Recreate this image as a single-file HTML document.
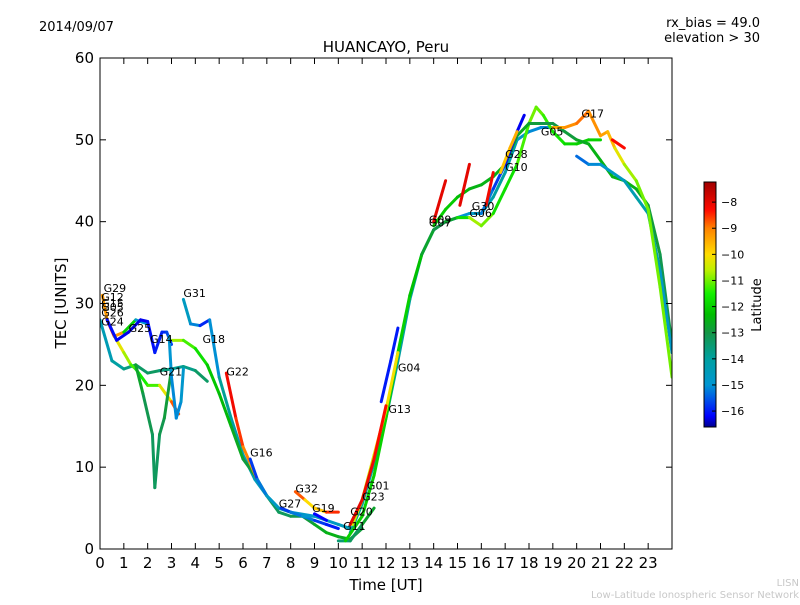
<!DOCTYPE html>
<html><head><meta charset="utf-8"><style>
body{margin:0;background:#fff;width:800px;height:600px;overflow:hidden;font-family:"Liberation Sans","DejaVu Sans",sans-serif}
</style></head><body>
<svg id="chart" width="800" height="600" xmlns="http://www.w3.org/2000/svg" font-family="DejaVu Sans, Liberation Sans, sans-serif">
<defs>
<linearGradient id="jet" x1="0" y1="1" x2="0" y2="0"></linearGradient>
<clipPath id="plotclip"><rect x="100" y="58" width="572" height="491"/></clipPath>
</defs>
<text x="39" y="31" font-size="13">2014/09/07</text>
<text x="760" y="27" font-size="13" text-anchor="end">rx_bias = 49.0</text>
<text x="760" y="42" font-size="13" text-anchor="end">elevation &gt; 30</text>
<text x="386" y="52" font-size="15" text-anchor="middle">HUANCAYO, Peru</text>
<g id="marks" clip-path="url(#plotclip)"></g>
<g id="labels"></g>
<rect x="100" y="58" width="572" height="491" fill="none" stroke="#000" stroke-width="1"/>
<g id="axes"></g>
<text x="386" y="590" font-size="15" text-anchor="middle">Time [UT]</text>
<text transform="translate(66,303) rotate(-90)" font-size="15" text-anchor="middle">TEC [UNITS]</text>
<rect x="704" y="182" width="12" height="245" fill="url(#jet)" stroke="#000" stroke-width="1"/>
<g id="cbticks"></g>
<text transform="translate(761,305) rotate(-90)" font-size="13" text-anchor="middle">Latitude</text>
<text x="799" y="586" font-size="10" fill="#c8c8c8" text-anchor="end">LISN</text>
<text x="799" y="598" font-size="10" fill="#c8c8c8" text-anchor="end">Low-Latitude Ionospheric Sensor Network</text>
</svg>
<script>
const xTicks=[0,1,2,3,4,5,6,7,8,9,10,11,12,13,14,15,16,17,18,19,20,21,22,23];
const yTicks=[0,10,20,30,40,50,60];
const cbTicks=[-8,-9,-10,-11,-12,-13,-14,-15,-16];
const trkT1=[0,0.5,1,1.5,2,2.5,3,3.5,4,4.5];const trkV1=[28,23,22,22.5,21.5,21.8,22,22.3,21.8,20.5];const trkL1=[-14.5,-14.3,-13.8,-13.5,-13.2,-13.4,-13.8,-14,-13.5,-13.2];
const trkT2=[3,3.5,4,4.5,5,5.5,6,6.5,7,7.5,8,8.5,9,9.5,10,10.5,11];const trkV2=[25.5,25.5,24.5,22.5,19,15,11,9,6.5,4.5,4,4,3,2,1.5,1.2,2.5];const trkL2=[-10.5,-11,-11.5,-12,-12.3,-12.5,-12.8,-13,-13.2,-13.3,-13.2,-13,-12.8,-12.5,-12.5,-12.8,-13];
const trkT3=[5.3,5.7,6,6.3,6.6];const trkV3=[21.5,16,12.5,10.5,8.5];const trkL3=[-8,-8.3,-8.8,-9.2,-9.5];
const trkT4=[6.3,6.6,7,7.5,8,8.5,9,9.5,10];const trkV4=[11,8.5,6.5,5,4.5,4,3.5,3,2.5];const trkL4=[-16,-15.5,-15,-14.5,-14.5,-15,-15.5,-16,-16];
const trkT5=[3.5,3.8,4.2,4.6,5,5.5,6,6.5,7,7.5,8,9,10,10.5];const trkV5=[30.5,27.5,27.3,28,21,16,11.5,8.5,6.5,5,4.5,4,3,2.5];const trkL5=[-14.5,-14.8,-15.5,-16.3,-13.8,-14,-14.2,-14.5,-14.6,-14.7,-14.8,-14.8,-14.6,-14.5];
const trkT6=[0.1,0.3,0.6,1,1.3,1.5,2,2.5,3,3.3];const trkV6=[31,28,26,24,22.5,22,20,20,18,16.5];const trkL6=[-9,-9.5,-10,-10.5,-11,-11.5,-11.5,-11,-9.5,-8];
const trkT7=[1.5,1.8,2.2,2.3,2.5,2.7,3];const trkV7=[22.5,19,14,7.5,14,16,22];const trkL7=[-12.5,-13,-13.2,-13.3,-13.2,-13,-12.8];
const trkT8=[0.3,0.6,1,1.5,2];const trkV8=[28,26,26.5,28,27.5];const trkL8=[-8,-8.5,-10,-14,-16];
const trkT9=[0.3,0.7,1.2,1.7,2,2.3,2.6,2.8,3];const trkV9=[28,25.5,26.5,28,27.8,24,26.5,26.5,25];const trkL9=[-16,-16.2,-16.3,-16.3,-16.2,-16,-16,-15.8,-15.5];
const trkT10=[2.9,3,3.2,3.4,3.5];const trkV10=[26,21,16,18,22];const trkL10=[-15,-15,-15.2,-15,-14.8];
const trkT11=[10.5,11,11.5,12];const trkV11=[3,6,11,17.5];const trkL11=[-8,-8,-8.2,-8.3];
const trkT12=[11.8,12.2,12.5];const trkV12=[18,23,27];const trkL12=[-16,-16,-16];
const trkT13=[10.3,11,11.5,12,12.5,13,13.5,14,14.5,15,15.5,16,16.5,17,17.5,18,18.3,18.6,19,19.5,20,20.5,21];const trkV13=[1,4,9,16,24,31,36,39,40,40.5,40.5,39.5,41,44,47,52,54,53,51,49.5,49.5,50,50];const trkL13=[-12,-12,-12,-12,-12,-12,-12.5,-13,-13,-12.5,-11,-10.5,-11.5,-12,-11.5,-11,-11,-11.2,-11.5,-11.8,-12,-12,-12];
const trkT14=[10.5,11,11.5,12,12.5,13,13.5,14,14.5,15,15.5,16,16.5,17,17.5,18,18.5,19];const trkV14=[2,5.5,10.5,16,23,30.5,36,39,40,40.5,41,41,43,46,50,51,51.5,51.5];const trkL14=[-14,-14,-14,-14,-14,-14,-14,-14.5,-14.8,-15,-15,-14.5,-14,-14,-14.5,-15,-15.2,-15];
const trkT15=[14,14.5,15,15.5,16,16.5,17,17.5,18,18.5,19,19.5,20,20.5,21,21.5,22,22.5,23,23.5,24];const trkV15=[39.5,41.5,43,44,44.5,45.5,47,50.5,52,52,52,51,50,49.5,47.5,45.5,45,44,42,36,25];const trkL15=[-12,-12,-12.2,-12.5,-12.5,-12.5,-12.5,-12.5,-12.8,-13,-13,-13,-12.8,-12.5,-12.5,-12.5,-12.5,-12.5,-12.8,-13,-13.2];
const trkT16=[19,19.5,20,20.5,21,21.3,21.6,22,22.5,23,23.5,24];const trkV16=[51.5,51.5,52,53.5,50.5,51,49,47,45,41.5,32,21];const trkL16=[-9.5,-9.3,-9,-8.8,-9.5,-9.2,-10,-10.5,-11,-11,-11,-11];
const trkT17=[20,20.5,21,21.5,22,22.5,23,23.5,24];const trkV17=[48,47,47,46,45,43,41,34,24];const trkL17=[-15.5,-15.2,-15,-14.8,-14.5,-14.3,-14,-14.5,-15];
const trkT18=[21.5,22];const trkV18=[50,49];const trkL18=[-8.5,-8];
const trkT19=[16,16.5,17,17.5,17.8];const trkV19=[41,44,47,51,53];const trkL19=[-15,-15.5,-16,-16.2,-16.3];
const trkT20=[14,14.5];const trkV20=[40,45];const trkL20=[-8,-8];
const trkT21=[15.1,15.5];const trkV21=[42,47];const trkL21=[-8,-8];
const trkT22=[16.2,16.5];const trkV22=[42,46];const trkL22=[-8.3,-8];
const trkT23=[8.2,8.6,9,9.5,10];const trkV23=[7,6,5,4.5,4.5];const trkL23=[-8,-9.5,-10.5,-9,-8];
const trkT24=[10,10.5,11,11.5];const trkV24=[1,1,3,5];const trkL24=[-13.5,-13.5,-13,-12.5];
const trkT25=[16.8,17.2,17.5];const trkV25=[46,49,51];const trkL25=[-10,-9.5,-9.5];
const trkT26=[10.6,11,11.5,12,12.5];const trkV26=[3,6,11.5,17,24];const trkL26=[-10.5,-10.5,-10.3,-10.2,-10];
const trkT27=[7.6,8,8.5,9];const trkV27=[5,4.5,4,4];const trkL27=[-16,-15.5,-15,-14.8];
const trkT28=[9,9.5];const trkV28=[4.3,3.5];const trkL28=[-16.2,-16.2];
const tracks=[[trkT1,trkV1,trkL1],[trkT5,trkV5,trkL5],[trkT2,trkV2,trkL2],[trkT3,trkV3,trkL3],[trkT4,trkV4,trkL4],[trkT6,trkV6,trkL6],[trkT7,trkV7,trkL7],[trkT8,trkV8,trkL8],[trkT9,trkV9,trkL9],[trkT10,trkV10,trkL10],[trkT23,trkV23,trkL23],[trkT24,trkV24,trkL24],[trkT27,trkV27,trkL27],[trkT28,trkV28,trkL28],[trkT14,trkV14,trkL14],[trkT13,trkV13,trkL13],[trkT26,trkV26,trkL26],[trkT15,trkV15,trkL15],[trkT17,trkV17,trkL17],[trkT16,trkV16,trkL16],[trkT18,trkV18,trkL18],[trkT19,trkV19,trkL19],[trkT25,trkV25,trkL25],[trkT11,trkV11,trkL11],[trkT12,trkV12,trkL12],[trkT20,trkV20,trkL20],[trkT21,trkV21,trkL21],[trkT22,trkV22,trkL22]];
const labelNames=["G29","G12","G15","G05","G26","G24","G25","G14","G21","G31","G18","G22","G16","G32","G27","G19","G20","G11","G01","G23","G13","G04","G09","G07","G06","G30","G28","G10","G05","G17"];
const labelT=[0.15,0.05,0.05,0.05,0.05,0.05,1.2,2.1,2.5,3.5,4.3,5.3,6.3,8.2,7.5,8.9,10.5,10.2,11.2,11,12.1,12.5,13.8,13.8,15.5,15.6,17,17,18.5,20.2];
const labelV=[31.4,30.3,29.6,29.1,28.4,27.3,26.5,25.2,21.2,30.8,25.2,21.2,11.3,6.9,5.1,4.5,4.1,2.3,7.3,5.9,16.6,21.7,39.8,39.4,40.6,41.4,47.8,46.2,50.5,52.7];
const NS="http://www.w3.org/2000/svg";
const X=t=>100+t*572/24, Y=v=>549-v*491/60;
const latMin=-16.61, latMax=-7.23;
const cmap=[[-16.61,[0,0,140]],[-16.2,[0,0,255]],[-15.5,[0,90,230]],[-15,[0,150,210]],[-14,[0,160,160]],[-13,[20,150,70]],[-12.3,[0,190,0]],[-11.5,[20,240,0]],[-10.6,[190,240,0]],[-10,[255,220,0]],[-9,[255,130,0]],[-8.3,[255,10,0]],[-7.23,[160,0,0]]];
function jet(l){l=Math.max(latMin,Math.min(latMax,l));for(let i=0;i<cmap.length-1;i++){const a=cmap[i],b=cmap[i+1];if(l<=b[0]){const f=(l-a[0])/(b[0]-a[0]);const c=a[1].map((v,k)=>Math.round(v+(b[1][k]-v)*f));return `rgb(${c})`;}}return 'rgb(160,0,0)';}
const grad=document.getElementById('jet');
cmap.forEach(s=>{const st=document.createElementNS(NS,'stop');st.setAttribute('offset',(s[0]-latMin)/(latMax-latMin));st.setAttribute('stop-color',`rgb(${s[1]})`);grad.appendChild(st);});
const marks=document.getElementById('marks');
tracks.forEach((tr,i)=>{const [T,V,L]=tr;const g=document.createElementNS(NS,'g');


for(let k=0;k<T.length-1;k++){const ln=document.createElementNS(NS,'line');
ln.setAttribute('x1',X(T[k]));ln.setAttribute('y1',Y(V[k]));ln.setAttribute('x2',X(T[k+1]));ln.setAttribute('y2',Y(V[k+1]));
ln.setAttribute('stroke',jet((L[k]+L[k+1])/2));ln.setAttribute('stroke-width','3');ln.setAttribute('stroke-linecap','round');


g.appendChild(ln);}marks.appendChild(g);});
const lab=document.getElementById('labels');
labelNames.forEach((n,i)=>{const t=document.createElementNS(NS,'text');t.setAttribute('x',X(labelT[i]));t.setAttribute('y',Y(labelV[i]));t.setAttribute('font-size','11');t.textContent=n;


lab.appendChild(t);});
const ax=document.getElementById('axes');
xTicks.forEach(v=>{const x=X(v);ax.insertAdjacentHTML('beforeend',`<line x1="${x}" y1="549" x2="${x}" y2="543" stroke="#000"/><line x1="${x}" y1="58" x2="${x}" y2="64" stroke="#000"/>`);
const t=document.createElementNS(NS,'text');t.setAttribute('x',x);t.setAttribute('y',568);t.setAttribute('font-size','15');t.setAttribute('text-anchor','middle');t.textContent=v;


ax.appendChild(t);});
yTicks.forEach(v=>{const y=Y(v);ax.insertAdjacentHTML('beforeend',`<line x1="100" y1="${y}" x2="106" y2="${y}" stroke="#000"/><line x1="672" y1="${y}" x2="666" y2="${y}" stroke="#000"/>`);
const t=document.createElementNS(NS,'text');t.setAttribute('x',94);t.setAttribute('y',y+5);t.setAttribute('font-size','15');t.setAttribute('text-anchor','end');t.textContent=v;


ax.appendChild(t);});
const cb=document.getElementById('cbticks');
cbTicks.forEach(v=>{const y=182+(latMax-v)/(latMax-latMin)*245;cb.insertAdjacentHTML('beforeend',`<line x1="712" y1="${y}" x2="716" y2="${y}" stroke="#000"/>`);
const t=document.createElementNS(NS,'text');t.setAttribute('x',721);t.setAttribute('y',y+4);t.setAttribute('font-size','11');t.textContent='\u2212'+Math.abs(v);


cb.appendChild(t);});
</script>
</body></html>
